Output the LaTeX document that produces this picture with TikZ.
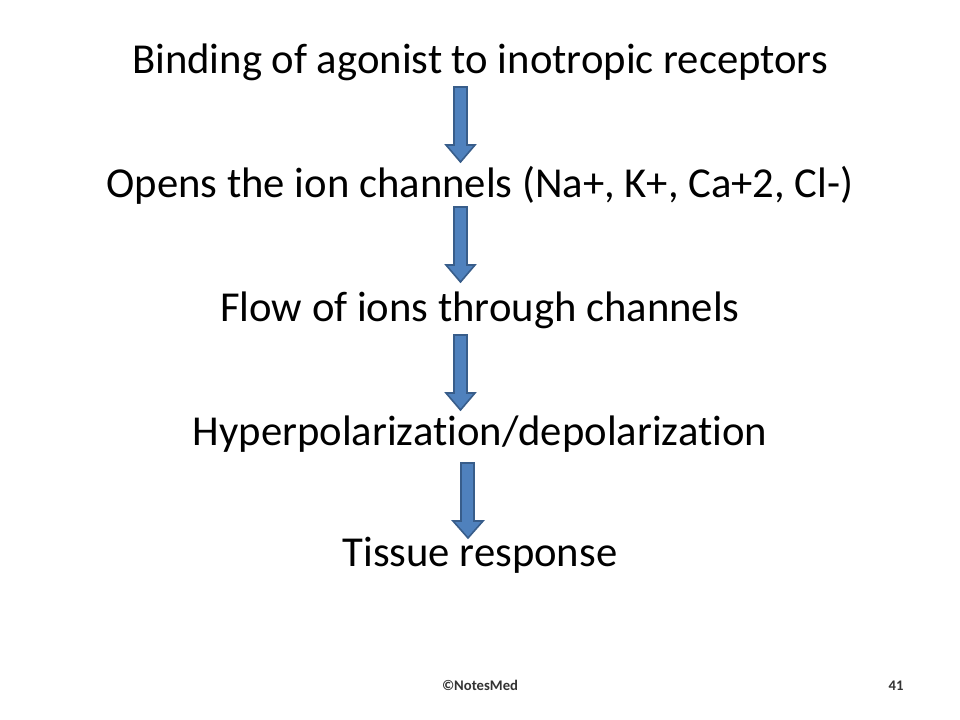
\documentclass[tikz,border=0pt]{standalone}
\usepackage{fontspec}
\setmainfont[Ligatures=NoCommon]{Carlito}
\begin{document}
\begin{tikzpicture}[x=0.75pt,y=-0.75pt,
  stepline/.style={anchor=base,inner sep=0pt,font=\fontsize{32}{36}\selectfont},
  footnote/.style={anchor=base,inner sep=0pt,font=\fontsize{11}{12}\selectfont\bfseries,text=black!80},
  blockarrow/.style={fill=arrowfill,draw=arrowline,line width=1.2pt,line join=miter}]
\definecolor{arrowfill}{RGB}{79,129,189}
\definecolor{arrowline}{RGB}{56,93,138}
\useasboundingbox (0,0) rectangle (960,720);
\fill[white] (0,0) rectangle (960,720);
\node[stepline] (s1) at (480,74) {Binding of agonist to inotropic receptors};
\node[stepline] (s2) at (480,198) {Opens the ion channels (Na+, K+, Ca+2, Cl-)};
\node[stepline] (s3) at (480,321) {Flow of ions through channels};
\node[stepline] (s4) at (480,445) {Hyperpolarization/depolarization};
\node[stepline] (s5) at (480,566) {Tissue response};
\foreach \t/\h in {87/145,207/265,335/393} {
  \draw[blockarrow] (454,\t) -- (467,\t) -- (467,\h) -- (475,\h) -- (460.5,\h+17) -- (446,\h) -- (454,\h) -- cycle;
}
\draw[blockarrow] (461,463) -- (474,463) -- (474,521) -- (483,521) -- (468,538) -- (453,521) -- (461,521) -- cycle;
\node[footnote] (foot) at (480,690) {©NotesMed};
\node[footnote] (page) at (896,690) {41};
\end{tikzpicture}
\end{document}
